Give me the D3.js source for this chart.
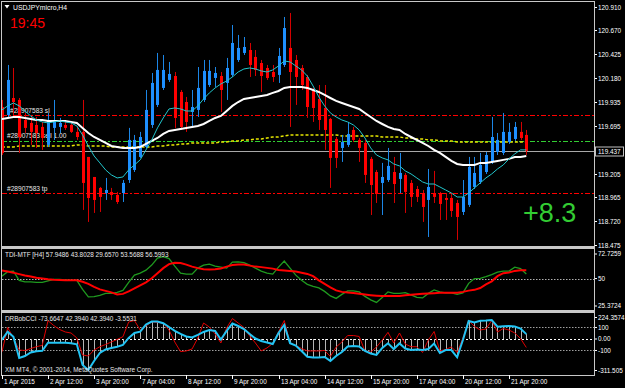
<!DOCTYPE html>
<html>
<head>
<meta charset="utf-8">
<script src="https://cdn.jsdelivr.net/npm/d3@7"></script>
<style>
  html, body { margin: 0; padding: 0; background: #000; }
  svg { display: block; font-family: "Liberation Sans", Arial, sans-serif; }
</style>
</head>
<body>
<div id="chart"></div>
<script>
// USDJPYmicro H4, 92 bars
const timeLabels = ["1 Apr 2015", "2 Apr 12:00", "3 Apr 20:00", "7 Apr 04:00", "8 Apr 12:00", "9 Apr 20:00",
  "13 Apr 04:00", "14 Apr 12:00", "15 Apr 20:00", "17 Apr 04:00", "20 Apr 12:00", "21 Apr 20:00"];
const timeLabelBars = [0, 8, 16, 24, 32, 40, 48, 56, 64, 72, 80, 88];

const open = [119.887,119.805,119.979,119.959,119.754,119.724,119.703,119.683,119.499,119.673,
  119.683,119.703,119.703,119.632,119.632,119.376,119.171,119.059,119.007,119.018,
  118.987,119.007,119.140,119.243,119.376,119.478,119.703,119.908,120.082,120.164,
  120.204,120.041,119.938,119.836,119.857,119.959,120.112,120.184,120.204,120.133,
  120.215,120.368,120.440,120.470,120.399,120.337,120.286,120.245,120.215,120.317,
  120.491,120.368,120.286,120.194,120.051,119.969,119.877,119.765,119.560,119.468,
  119.499,119.652,119.550,119.519,119.356,119.222,119.110,119.140,119.222,119.151,
  119.192,119.110,119.048,119.007,118.936,119.007,119.007,118.956,118.956,118.905,
  118.813,118.885,119.069,119.120,119.222,119.325,119.427,119.417,119.529,119.560,
  119.632,119.601];
const high = [119.959,120.317,120.286,119.979,119.826,119.785,119.785,119.734,119.826,119.959,
  119.775,119.754,119.734,119.683,119.959,119.376,119.171,119.069,119.161,119.059,
  119.018,119.140,119.673,119.601,119.632,120.061,120.235,120.440,120.419,120.348,
  120.245,120.061,119.990,120.061,120.296,120.368,120.368,120.296,120.245,120.389,
  120.726,120.624,120.603,120.542,120.470,120.368,120.317,120.317,120.491,120.808,
  120.849,120.419,120.317,120.215,120.082,120.112,120.112,119.775,119.580,119.601,
  119.734,119.683,119.570,119.550,119.376,119.243,119.315,119.468,119.376,119.417,
  119.212,119.140,119.079,119.038,119.253,119.233,119.018,119.007,119.007,118.936,
  119.140,119.376,119.376,119.417,119.427,119.785,119.621,119.826,119.724,119.734,
  119.734,119.652];
const low = [119.396,119.785,119.805,119.417,119.621,119.499,119.468,119.448,119.478,119.550,
  119.621,119.652,119.621,119.550,118.834,118.711,118.803,118.813,118.936,118.936,
  118.895,118.915,119.110,119.222,119.366,119.468,119.673,119.887,120.061,120.143,
  119.673,119.652,119.632,119.683,119.785,119.938,120.092,120.092,119.836,119.959,
  120.194,120.348,120.419,120.194,120.204,120.041,120.164,120.143,120.133,120.296,
  119.683,119.908,120.061,119.775,119.734,119.652,119.448,119.059,119.263,119.325,
  119.478,119.529,119.325,119.110,118.782,118.905,118.782,119.120,118.905,119.007,
  118.803,118.864,118.915,118.711,118.557,118.905,118.731,118.731,118.762,118.527,
  118.782,118.864,119.048,119.099,119.202,119.304,119.396,119.396,119.509,119.540,
  119.550,119.396];
const close = [119.417,120.164,119.938,119.580,119.673,119.632,119.621,119.570,119.754,119.734,
  119.724,119.673,119.632,119.580,119.110,118.956,118.936,118.967,119.038,118.987,
  118.915,119.110,119.550,119.550,119.580,119.857,120.133,120.266,120.266,120.225,
  119.775,119.683,119.734,119.887,120.082,120.256,120.256,120.235,120.061,120.286,
  120.542,120.491,120.501,120.317,120.266,120.204,120.184,120.194,120.409,120.695,
  120.245,120.194,120.112,119.887,119.877,119.754,119.652,119.366,119.366,119.529,
  119.611,119.550,119.468,119.192,119.089,118.997,119.171,119.284,119.099,119.212,
  119.018,118.967,118.967,118.864,119.069,118.967,118.895,118.936,118.823,118.762,
  118.967,119.274,119.212,119.294,119.396,119.580,119.550,119.632,119.632,119.683,
  119.570,119.437];

// moving averages
const maSlow = [119.765,119.775,119.785,119.785,119.775,119.765,119.754,119.754,119.744,119.744,
  119.744,119.744,119.734,119.724,119.673,119.621,119.580,119.550,119.519,119.488,
  119.478,119.468,119.468,119.468,119.478,119.509,119.540,119.570,119.611,119.642,
  119.652,119.662,119.673,119.683,119.693,119.713,119.744,119.775,119.795,119.846,
  119.898,119.938,119.969,119.979,119.990,120.000,120.010,120.031,120.051,120.082,
  120.092,120.092,120.092,120.082,120.061,120.041,120.010,119.979,119.949,119.928,
  119.908,119.887,119.867,119.826,119.785,119.744,119.713,119.683,119.662,119.652,
  119.611,119.580,119.550,119.519,119.488,119.448,119.417,119.376,119.335,119.304,
  119.294,119.294,119.294,119.315,119.315,119.325,119.335,119.346,119.356,119.376,
  119.376,119.386];
const maFast = [119.857,119.898,119.928,119.898,119.846,119.795,119.754,119.734,119.724,119.734,
  119.744,119.734,119.724,119.693,119.601,119.488,119.386,119.315,119.243,119.192,
  119.161,119.171,119.243,119.294,119.346,119.448,119.550,119.673,119.775,119.867,
  119.877,119.867,119.846,119.846,119.898,119.969,120.031,120.082,120.123,120.153,
  120.194,120.245,120.276,120.286,120.276,120.256,120.245,120.266,120.307,120.358,
  120.348,120.307,120.266,120.204,120.102,119.990,119.898,119.826,119.785,119.754,
  119.734,119.703,119.652,119.570,119.468,119.396,119.366,119.346,119.304,119.284,
  119.233,119.202,119.161,119.120,119.099,119.099,119.069,119.038,119.007,118.966,
  118.966,119.007,119.059,119.110,119.161,119.202,119.253,119.294,119.356,119.407,
  119.448,119.448];
const maYellow = [119.478,119.478,119.478,119.488,119.488,119.488,119.488,119.488,119.488,119.488,
  119.488,119.488,119.488,119.499,119.499,119.488,119.488,119.488,119.488,119.478,
  119.478,119.478,119.478,119.478,119.478,119.478,119.478,119.488,119.488,119.499,
  119.499,119.509,119.509,119.519,119.519,119.519,119.519,119.519,119.529,119.529,
  119.540,119.540,119.550,119.550,119.560,119.560,119.570,119.580,119.580,119.591,
  119.601,119.601,119.601,119.601,119.601,119.601,119.601,119.601,119.601,119.591,
  119.591,119.591,119.591,119.591,119.591,119.591,119.580,119.580,119.580,119.580,
  119.570,119.570,119.560,119.560,119.550,119.550,119.540,119.540,119.540,119.529,
  119.529,119.529,119.529,119.529,119.529,119.529,119.529,119.529,119.529,119.529,
  119.529,119.529];

const priceTicks = [120.910, 120.670, 120.425, 120.180, 119.935, 119.695, 119.205, 118.965, 118.720, 118.475];
const bidPrice = 119.437;
const orderLevels = [
  { price: 119.805, label: "#28907583 sl", color: "#ff0000" },
  { price: 119.540, label: "#28907583 sell 1.00", color: "#32cd32" },
  { price: 119.007, label: "#28907583 tp", color: "#ff0000" }
];

// TDI-MTF sub window
const tdiPrice = [51.9,55.5,55.9,48.6,47.4,47.4,47.0,47.0,48.2,49.4,
  49.4,49.0,48.6,48.6,41.4,35.4,35.6,36.6,38.2,38.2,
  39.0,40.6,47.0,52.7,54.3,56.7,60.7,66.3,67.5,65.9,
  59.9,54.3,53.5,53.5,58.3,60.7,61.5,59.9,59.1,58.3,
  63.1,63.3,62.7,60.7,58.3,55.9,54.3,53.5,59.1,63.9,
  58.3,52.7,48.6,45.4,43.8,42.6,39.8,36.2,34.2,37.4,
  40.2,40.2,39.4,35.8,33.0,31.0,35.0,39.4,38.2,38.2,
  38.8,37.0,35.0,34.6,38.2,41.0,39.4,38.6,38.6,37.4,
  38.6,46.2,50.0,50.2,51.5,53.1,55.1,55.9,55.9,59.1,
  58.0,53.5688];
const tdiSignal = [56.5,55.6,54.7,53.5,52.4,51.6,50.6,50.0,49.4,49.0,
  48.8,48.6,48.6,48.6,47.4,45.8,43.4,41.4,40.2,39.0,
  37.4,37.8,39.8,42.2,44.6,47.0,50.2,54.3,58.3,61.5,
  62.5,62.3,61.1,59.5,58.3,57.5,57.2,57.5,58.0,59.5,
  60.7,61.1,61.1,60.3,59.5,59.1,58.5,57.9,56.9,56.5,
  56.1,55.6,54.7,53.7,51.9,48.6,45.8,43.0,40.6,39.4,
  38.9,38.5,37.9,37.3,36.8,36.4,36.1,36.1,36.1,36.2,
  36.8,37.2,37.5,37.9,38.1,38.4,38.7,38.8,38.8,38.8,
  39.4,40.4,41.0,42.5,45.4,47.8,51.9,54.3,54.8,56.1,
  56.7,56.5993];
const tdiTicks = [72.7259, 50, 25.3724];

// DRBobCCI sub window
const cciMain = [-9,64,20,-165,-148,-117,-107,-102,-32,-32,
  -32,-32,-37,-46,-226,-270,-191,-122,-91,-78,
  -67,-52,9,52,64,126,152,152,137,104,
  70,44,22,13,35,61,78,70,-4,70,
  135,113,87,44,4,-17,-30,-44,52,122,
  -37,-57,-104,-154,-161,-161,-157,-191,-148,-113,
  -65,-61,-65,-104,-126,-139,-78,-37,-87,-39,
  -83,-96,-91,-96,-87,-39,-122,-96,-96,-159,
  -9,157,144,159,161,165,107,110,113,109,
  91,42.394];
const cciTrend = [-113,100,9,-96,-100,-83,-67,-55,159,117,
  83,61,52,9,-139,-148,-96,-67,-48,-26,
  -4,20,148,161,78,113,150,144,137,78,
  -26,-110,-104,-87,9,139,104,44,-35,96,
  178,139,100,26,-35,-104,-78,-39,61,161,
  -37,-57,-83,-104,-104,-104,-100,-152,-70,-26,
  30,30,22,-104,-113,-70,-9,58,-35,52,
  -44,-67,-67,-117,-9,65,-104,-91,-70,-117,
  9,161,109,78,87,161,61,91,78,52,
  4,-73.6647];
const cciTicks = [224.3574, 100, 0, -100, -311.505];
const cciTickText = ["224.3574", "100", "0.00", "-100", "-311.505"];

const width = 625, height = 388;
const plotLeft = 2, plotRight = 594;
const mainTop = 2, mainBottom = 247;
const tdiTop = 249, tdiBottom = 311;
const cciTop = 313, cciBottom = 375;

const svg = d3.select("#chart").append("svg")
  .attr("width", width).attr("height", height);

svg.append("rect").attr("width", width).attr("height", height).attr("fill", "#000");

const x = d3.scaleLinear().domain([0, close.length - 1]).range([1.9, 526.3]);
const yP = d3.scaleLinear().domain([118.475, 120.910]).range([245, 7]);
const yT = d3.scaleLinear().domain([25.3724, 72.7259]).range([309.5, 250]);
const yC = d3.scaleLinear().domain([-311.505, 224.3574]).range([374.8, 313.2]);

const defs = svg.append("defs");
[["clipMain", mainTop, mainBottom], ["clipTdi", tdiTop, tdiBottom], ["clipCci", cciTop, cciBottom]]
  .forEach(([id, t, b]) => {
    defs.append("clipPath").attr("id", id).append("rect")
      .attr("x", plotLeft).attr("y", t).attr("width", plotRight - plotLeft).attr("height", b - t);
  });

// ---------- main window ----------
const main = svg.append("g").attr("clip-path", "url(#clipMain)");

main.selectAll(".order")
  .data(orderLevels)
  .join("line")
  .attr("x1", plotLeft).attr("x2", plotRight)
  .attr("y1", d => Math.round(yP(d.price)) + 0.5)
  .attr("y2", d => Math.round(yP(d.price)) + 0.5)
  .attr("stroke", d => d.color)
  .attr("stroke-width", 1)
  .attr("stroke-dasharray", "5,2,2,2");

main.append("line")
  .attr("x1", plotLeft).attr("x2", plotRight)
  .attr("y1", Math.round(yP(bidPrice)) + 0.5).attr("y2", Math.round(yP(bidPrice)) + 0.5)
  .attr("stroke", "#a8a8a8").attr("stroke-width", 1);

const lineP = data => d3.line().x((d, i) => x(i)).y(d => yP(d))(data);

main.append("path")
  .attr("d", lineP(maYellow))
  .attr("fill", "none").attr("stroke", "#e6e600")
  .attr("stroke-width", 1.5).attr("stroke-dasharray", "3,2");

main.selectAll(".order-label")
  .data(orderLevels)
  .join("text")
  .attr("x", (d, i) => i === 0 ? 10 : 7)
  .attr("y", d => yP(d.price) - 2.5)
  .attr("fill", "#e8e8e8")
  .attr("font-size", "6.6px")
  .text(d => d.label);

const bars = close.map((c, i) => ({ i, o: open[i], h: high[i], l: low[i], c }));

main.selectAll(".wick")
  .data(bars)
  .join("line")
  .attr("x1", d => Math.round(x(d.i)) + 0.5).attr("x2", d => Math.round(x(d.i)) + 0.5)
  .attr("y1", d => yP(d.h)).attr("y2", d => yP(d.l))
  .attr("stroke", d => d.c >= d.o ? "#1c86e6" : "#d40000")
  .attr("stroke-width", 1);

main.selectAll(".body")
  .data(bars)
  .join("rect")
  .attr("x", d => Math.round(x(d.i)) - 1)
  .attr("width", 3)
  .attr("y", d => yP(Math.max(d.o, d.c)))
  .attr("height", d => Math.max(1, Math.abs(yP(d.o) - yP(d.c))))
  .attr("fill", d => d.c >= d.o ? "#1e90ff" : "#ff0000");

main.append("path")
  .attr("d", lineP(maSlow))
  .attr("fill", "none").attr("stroke", "#ffffff").attr("stroke-width", 2);

main.append("path")
  .attr("d", lineP(maFast))
  .attr("fill", "none").attr("stroke", "#22c6cc").attr("stroke-width", 1);

svg.append("path")
  .attr("d", "M4.5,5 L9.5,5 L7,8.5 Z").attr("fill", "#fff");
svg.append("text")
  .attr("x", 13).attr("y", 10)
  .attr("fill", "#fff").attr("font-size", "6.8px")
  .text("USDJPYmicro,H4");

svg.append("text")
  .attr("x", 10).attr("y", 27.5)
  .attr("fill", "#ff0000").attr("font-size", "14px")
  .text("19:45");

svg.append("text")
  .attr("x", 523).attr("y", 222)
  .attr("fill", "#33cc33").attr("font-size", "27px")
  .text("+8.3");

// price axis
const axisLabels = svg.append("g").attr("font-size", "6.4px").attr("fill", "#fff");
priceTicks.forEach(v => {
  const yy = Math.round(yP(v)) + 0.5;
  svg.append("line").attr("x1", plotRight).attr("x2", plotRight + 3)
    .attr("y1", yy).attr("y2", yy).attr("stroke", "#fff");
  axisLabels.append("text").attr("x", 598).attr("y", yy + 2.3).text(d3.format(".3f")(v));
});
const bidY = Math.round(yP(bidPrice)) + 0.5;
svg.append("rect")
  .attr("x", 595.5).attr("y", bidY - 4.5).attr("width", 28).attr("height", 9)
  .attr("fill", "#000").attr("stroke", "#c0c0c0");
svg.append("text")
  .attr("x", 598).attr("y", bidY + 2.3)
  .attr("fill", "#fff").attr("font-size", "6.4px")
  .text(d3.format(".3f")(bidPrice));

// ---------- TDI window ----------
const tdi = svg.append("g").attr("clip-path", "url(#clipTdi)");
tdi.append("line")
  .attr("x1", plotLeft).attr("x2", plotRight)
  .attr("y1", Math.round(yT(50)) + 0.5).attr("y2", Math.round(yT(50)) + 0.5)
  .attr("stroke", "#b0b0b0").attr("stroke-dasharray", "1.5,1.5");
const lineT = data => d3.line().x((d, i) => x(i)).y(d => yT(d))(data);
tdi.append("path").attr("d", lineT(tdiPrice))
  .attr("fill", "none").attr("stroke", "#1f9a1f").attr("stroke-width", 1.3);
tdi.append("path").attr("d", lineT(tdiSignal))
  .attr("fill", "none").attr("stroke", "#ff0000").attr("stroke-width", 2);
svg.append("text")
  .attr("x", 5).attr("y", 257)
  .attr("fill", "#e8e8e8").attr("font-size", "6.4px")
  .text("TDI-MTF [H4] 57.9486 43.8028 29.6570 53.5688 56.5993");
tdiTicks.forEach(v => {
  const yy = Math.min(Math.max(yT(v), tdiTop + 5), tdiBottom - 5);
  svg.append("line").attr("x1", plotRight).attr("x2", plotRight + 3)
    .attr("y1", yy).attr("y2", yy).attr("stroke", "#fff");
  svg.append("text").attr("x", 598).attr("y", yy + 2.3)
    .attr("fill", "#fff").attr("font-size", "6.4px").text(String(v));
});

// ---------- CCI window ----------
const cci = svg.append("g").attr("clip-path", "url(#clipCci)");
[100, -100].forEach(v => {
  cci.append("line")
    .attr("x1", plotLeft).attr("x2", plotRight)
    .attr("y1", Math.round(yC(v)) + 0.5).attr("y2", Math.round(yC(v)) + 0.5)
    .attr("stroke", "#a0a0a0").attr("stroke-dasharray", "1.5,1.5");
});
cci.append("line")
  .attr("x1", plotLeft).attr("x2", plotRight)
  .attr("y1", Math.round(yC(0)) + 0.5).attr("y2", Math.round(yC(0)) + 0.5)
  .attr("stroke", "#fff").attr("stroke-dasharray", "2,2");
cci.selectAll(".hist")
  .data(cciMain)
  .join("line")
  .attr("x1", (d, i) => Math.round(x(i)) + 0.5).attr("x2", (d, i) => Math.round(x(i)) + 0.5)
  .attr("y1", yC(0)).attr("y2", d => yC(d))
  .attr("stroke", "#b4b4b4").attr("stroke-width", 1);
const lineC = data => d3.line().x((d, i) => x(i)).y(d => yC(d))(data);
cci.append("path").attr("d", lineC(cciTrend))
  .attr("fill", "none").attr("stroke", "#e00000").attr("stroke-width", 1);
cci.append("path").attr("d", lineC(cciMain))
  .attr("fill", "none").attr("stroke", "#22c4f4").attr("stroke-width", 2);
svg.append("text")
  .attr("x", 5).attr("y", 321)
  .attr("fill", "#e8e8e8").attr("font-size", "6.4px")
  .text("DRBobCCI -73.6647 42.3940 42.3940 -3.5531");
svg.append("text")
  .attr("x", 5).attr("y", 372)
  .attr("fill", "#e8e8e8").attr("font-size", "6.4px")
  .text("XM MT4, \u00a9 2001-2014, MetaQuotes Software Corp.");
cciTicks.forEach((v, k) => {
  const yy = Math.min(Math.max(yC(v), cciTop + 4.5), cciBottom - 4.5);
  svg.append("line").attr("x1", plotRight).attr("x2", plotRight + 3)
    .attr("y1", yy).attr("y2", yy).attr("stroke", "#fff");
  svg.append("text").attr("x", 598).attr("y", yy + 2.3)
    .attr("fill", "#fff").attr("font-size", "6.4px").text(cciTickText[k]);
});

// ---------- frames ----------
const frame = svg.append("g").attr("fill", "none").attr("stroke", "#c8c8c8");
frame.append("rect").attr("x", plotLeft - 0.5).attr("y", mainTop - 0.5)
  .attr("width", plotRight - plotLeft + 1).attr("height", cciBottom - mainTop + 1);
[[mainBottom, tdiTop], [tdiBottom, cciTop]].forEach(([a, b]) => {
  frame.append("rect").attr("x", plotLeft - 0.5).attr("y", a - 0.5)
    .attr("width", plotRight - plotLeft + 1).attr("height", b - a)
    .attr("fill", "#c8c8c8");
});

// ---------- time axis ----------
const timeAxis = svg.append("g");
timeLabelBars.forEach((b, k) => {
  const xx = Math.round(x(b)) + 0.5;
  timeAxis.append("line").attr("x1", xx).attr("x2", xx)
    .attr("y1", cciBottom).attr("y2", cciBottom + 4).attr("stroke", "#fff");
  timeAxis.append("text").attr("x", xx + 1.5).attr("y", 384)
    .attr("fill", "#fff").attr("font-size", "6.4px").text(timeLabels[k]);
});
</script>
</body>
</html>
